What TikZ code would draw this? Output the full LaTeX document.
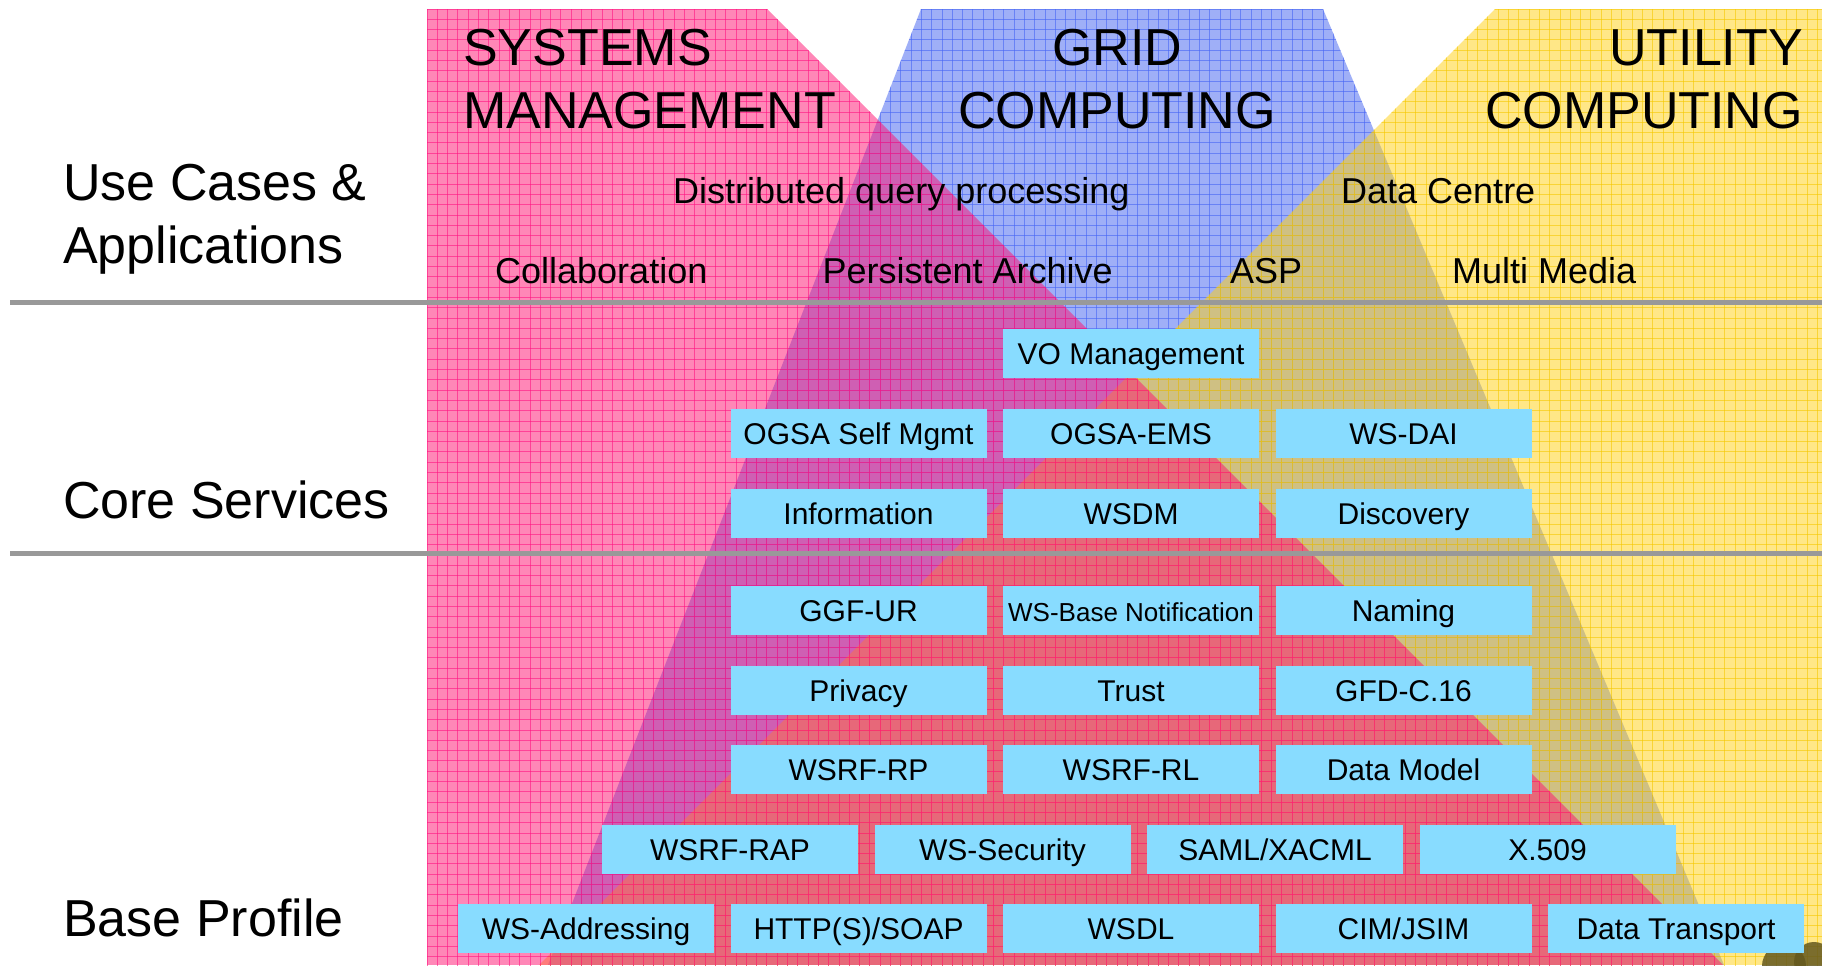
\documentclass[tikz,border=0pt]{standalone}
\usepackage{fontspec}
\setmainfont{Liberation Sans}

% base colours of the three translucent layers and their hatching
\definecolor{smbase}{RGB}{255,17,113}
\definecolor{smline}{RGB}{255,20,130}
\definecolor{gcbase}{RGB}{65,97,241}
\definecolor{gcline}{RGB}{70,100,245}
\definecolor{ucbase}{RGB}{255,209,17}
\definecolor{ucline}{RGB}{245,200,0}
\definecolor{cellblue}{RGB}{136,220,255}
\definecolor{rulegray}{RGB}{153,153,153}
\definecolor{logodark}{RGB}{100,88,30}

\tikzset{
  layerfill/.style={fill opacity=0.5},
  hatch/.style={line width=0.9bp, draw opacity=0.6},
  sep/.style={line width=5bp, draw=rulegray},
  cell/.style={fill=cellblue, minimum width=256bp, minimum height=49bp,
    inner sep=0pt, text height=28bp, text depth=6bp,
    font=\fontsize{30bp}{36bp}\selectfont},
  bigtext/.style={font=\fontsize{52bp}{63bp}\selectfont, inner sep=0pt},
  apptext/.style={font=\fontsize{36bp}{43bp}\selectfont, inner sep=0pt},
}

% hatching grid clipped to the current path scope
\newcommand{\hatchgrid}[1]{%
  \foreach \gx in {427,437.3,...,1830} {\draw[hatch, #1] (\gx,0) -- (\gx,970);}
  \foreach \gy in {9,19.3,...,975} {\draw[hatch, #1] (400,\gy) -- (1830,\gy);}
}

\begin{document}
\begin{tikzpicture}[x=1bp, y=-1bp]
\useasboundingbox (0,0) rectangle (1822,965);
\clip (0,0) rectangle (1822,965);
\fill[white] (0,0) rectangle (1822,965);

% Grid computing layer
\begin{scope}
  \path[clip] (921,9) -- (1323,9) -- (1724,965) -- (548,965) -- cycle;
  \fill[gcbase, layerfill] (0,0) rectangle (1822,965);
  \hatchgrid{gcline}
\end{scope}

% Utility computing layer
\begin{scope}
  \path[clip] (1495,9) -- (1830,9) -- (1830,975) -- (529,975) -- cycle;
  \fill[ucbase, layerfill] (0,0) rectangle (1822,965);
  \hatchgrid{ucline}
\end{scope}

% logo fragment in the lower right corner
\fill[logodark, fill opacity=0.85] (1784,966) circle (22);
\fill[logodark, fill opacity=0.85] (1814,962) circle (20);

% Systems management layer
\begin{scope}
  \path[clip] (427,9) -- (767,9) -- (1733,975) -- (427,975) -- cycle;
  \fill[smbase, layerfill] (0,0) rectangle (1822,965);
  \hatchgrid{smline}
\end{scope}

% layer separators
\coordinate (s1a) at (10,302);
\coordinate (s1b) at (1822,302);
\coordinate (s2a) at (10,553);
\coordinate (s2b) at (1822,553);
\draw[sep] (s1a) -- (s1b);
\draw[sep] (s2a) -- (s2b);

% column titles
\node[bigtext, anchor=base west] (smA) at (463,65) {SYSTEMS};
\node[bigtext, anchor=base west] (smB) at (463,128) {MANAGEMENT};
\node[bigtext, anchor=base] (gcA) at (1117,65) {GRID};
\node[bigtext, anchor=base] (gcB) at (1117,128) {COMPUTING};
\node[bigtext, anchor=base east] (ucA) at (1803,65) {UTILITY};
\node[bigtext, anchor=base east] (ucB) at (1803,128) {COMPUTING};

% layer names
\node[bigtext, anchor=base west] (lyA) at (63,200) {Use Cases \&};
\node[bigtext, anchor=base west] (lyB) at (63,263) {Applications};
\node[bigtext, anchor=base west] (lyC) at (63,518) {Core Services};
\node[bigtext, anchor=base west] (lyD) at (63,936) {Base Profile};

% use cases
\node[apptext, anchor=base west] (dqp) at (673,203) {Distributed query processing};
\node[apptext, anchor=base west] (dc) at (1341,203) {Data Centre};
\node[apptext, anchor=base west] (col) at (495,283) {Collaboration};
\node[apptext, anchor=base east] (pa) at (1113,283) {Persistent Archive};
\node[apptext, anchor=base west] (asp) at (1230,283) {ASP};
\node[apptext, anchor=base west] (mm) at (1452,283) {Multi Media};

% core services
\node[cell] (vo) at (1131,353.5) {VO Management};
\node[cell] (selfm) at (858.5,433.5) {OGSA Self Mgmt};
\node[cell] (ems) at (1131,433.5) {OGSA-EMS};
\node[cell] (dai) at (1403.5,433.5) {WS-DAI};
\node[cell] (info) at (858.5,513.5) {Information};
\node[cell] (wsdm) at (1131,513.5) {WSDM};
\node[cell] (disc) at (1403.5,513.5) {Discovery};

% base profile
\node[cell] (ggf) at (858.5,610.5) {GGF-UR};
\node[cell, font=\fontsize{26bp}{31bp}\selectfont] (notif) at (1131,610.5) {WS-Base Notification};
\node[cell] (naming) at (1403.5,610.5) {Naming};
\node[cell] (priv) at (858.5,690.5) {Privacy};
\node[cell] (trust) at (1131,690.5) {Trust};
\node[cell] (gfd) at (1403.5,690.5) {GFD-C.16};
\node[cell] (rp) at (858.5,769.5) {WSRF-RP};
\node[cell] (rl) at (1131,769.5) {WSRF-RL};
\node[cell] (dm) at (1403.5,769.5) {Data Model};
\node[cell] (rap) at (730,849.5) {WSRF-RAP};
\node[cell] (sec) at (1002.5,849.5) {WS-Security};
\node[cell] (saml) at (1275,849.5) {SAML/XACML};
\node[cell] (x509) at (1547.5,849.5) {X.509};
\node[cell] (addr) at (586,928.5) {WS-Addressing};
\node[cell] (soap) at (858.5,928.5) {HTTP(S)/SOAP};
\node[cell] (wsdl) at (1131,928.5) {WSDL};
\node[cell] (cim) at (1403.5,928.5) {CIM/JSIM};
\node[cell] (dt) at (1676,928.5) {Data Transport};
\end{tikzpicture}
\end{document}
